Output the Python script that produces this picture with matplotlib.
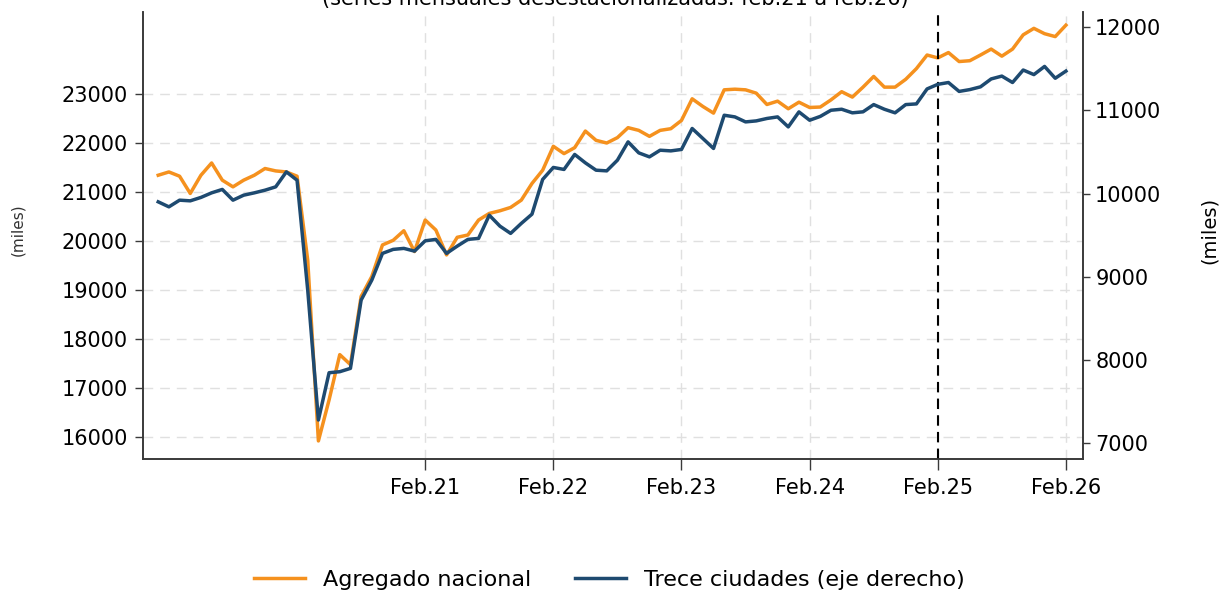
import numpy as np
import matplotlib
matplotlib.use("Agg")
import matplotlib.pyplot as plt

# meses desde ene.19 hasta feb.26 (indice 0 = ene.19)
agregado_nacional = [
    21333, 21400, 21313, 20961, 21333, 21583, 21232, 21096, 21232, 21333,
    21470, 21421, 21400, 21313, 19600, 15913, 16750, 17674, 17470, 18860,
    19267, 19911, 20005, 20201, 19776, 20419, 20215, 19707, 20067, 20114,
    20419, 20554, 20608, 20676, 20825, 21165, 21435, 21923, 21774, 21896,
    22234, 22045, 21990, 22100, 22303, 22248, 22126, 22248, 22282, 22451,
    22892, 22736, 22600, 23075, 23088, 23075, 23007, 22776, 22844, 22689,
    22823, 22715, 22724, 22870, 23037, 22927, 23130, 23348, 23130, 23130,
    23290, 23508, 23785, 23726, 23835, 23652, 23669, 23785, 23906, 23762,
    23906, 24197, 24329, 24220, 24161, 24394,
]
trece_ciudades = [
    9900, 9840, 9920, 9912, 9953, 10008, 10049, 9920, 9980, 10008,
    10040, 10080, 10260, 10160, 8840, 7280, 7848, 7860, 7900, 8720,
    8960, 9281, 9329, 9341, 9308, 9432, 9449, 9281, 9368, 9449,
    9461, 9740, 9608, 9521, 9641, 9752, 10169, 10313, 10289, 10469,
    10368, 10280, 10272, 10400, 10620, 10488, 10440, 10520, 10512, 10529,
    10781, 10661, 10541, 10940, 10920, 10860, 10872, 10901, 10920, 10800,
    10980, 10880, 10926, 11000, 11012, 10969, 10981, 11068, 11012, 10969,
    11068, 11076, 11256, 11311, 11333, 11226, 11248, 11281, 11376, 11410,
    11333, 11483, 11428, 11526, 11384, 11470,
]
tick_meses = [25, 37, 49, 61, 73, 85]
tick_labels = ["Feb.21", "Feb.22", "Feb.23", "Feb.24", "Feb.25", "Feb.26"]
ticks_izq = [16000, 17000, 18000, 19000, 20000, 21000, 22000, 23000]
ticks_der = [7000, 8000, 9000, 10000, 11000, 12000]
mes_corte = 73

titulo = "(series mensuales desestacionalizadas. feb.21 a feb.26)"

naranja = "#F5911E"
azul = "#1E4A70"

meses = np.arange(len(agregado_nacional))

fig = plt.figure(figsize=(12.26, 5.96), dpi=100)
ax = fig.add_axes([0.1166, 0.2299, 0.7665, 0.75])
ax2 = ax.twinx()

l1, = ax.plot(meses, agregado_nacional, color=naranja, lw=2.5, label="Agregado nacional", zorder=3)
l2, = ax2.plot(meses, trece_ciudades, color=azul, lw=2.5, label="Trece ciudades (eje derecho)", zorder=3)
ax.axvline(mes_corte, color="black", lw=1.5, ls=(0, (5, 3)), zorder=4)

ax.set_xlim(-1.43, 86.57)
ax.set_ylim(15545, 24663)
ax2.set_ylim(6812, 12180)

ax.set_xticks(tick_meses)
ax.set_xticklabels(tick_labels)
ax.set_yticks(ticks_izq)
ax2.set_yticks(ticks_der)

ax.grid(True, color="#e0e0e0", lw=1.0, ls=(0, (7, 5)))
ax.set_axisbelow(True)

for a in (ax, ax2):
    a.spines["top"].set_visible(False)
    for s in ("left", "right", "bottom"):
        a.spines[s].set_color("#3a3a3a")
        a.spines[s].set_linewidth(1.2)
ax.tick_params(axis="y", length=6, width=1, pad=5, labelsize=15, color="#3a3a3a")
ax.tick_params(axis="x", length=8, width=1, pad=6, labelsize=15, color="#3a3a3a")
ax2.tick_params(axis="y", length=5, width=1, pad=4, labelsize=15, color="#3a3a3a")

fig.text(17.5 / 1226, 1 - 230 / 596, "(miles)", rotation=90, ha="center", va="center",
         fontsize=11, color="#333333")
fig.text(1209 / 1226, 1 - 230 / 596, "(miles)", rotation=90, ha="center", va="center",
         fontsize=14)

fig.text(0.502, 1 - 9 / 596, titulo, ha="center", va="bottom", fontsize=15)

fig.legend([l1, l2], [l1.get_label(), l2.get_label()], loc="center",
           bbox_to_anchor=(0.497, 0.027), ncol=2, frameon=False, fontsize=16,
           handlelength=2.3, columnspacing=2.0)

fig.savefig("out.png", dpi=100)
